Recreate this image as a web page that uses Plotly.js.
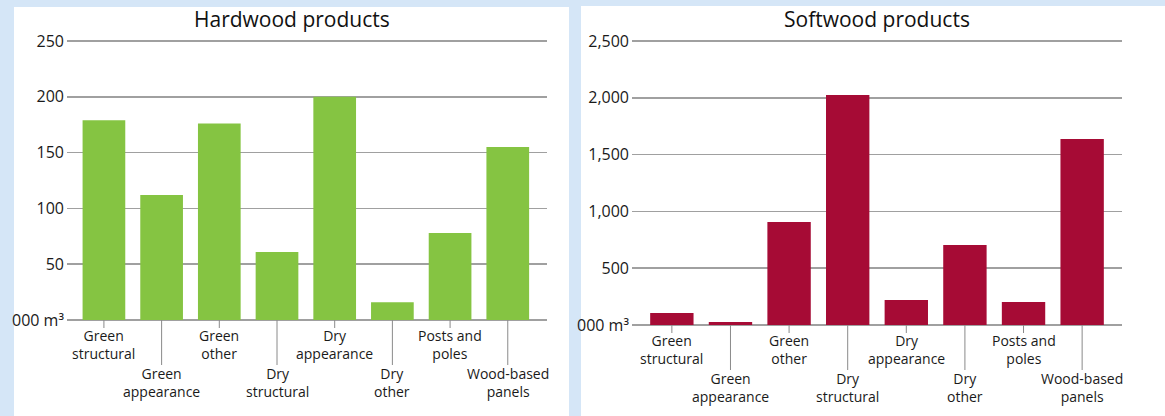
<!DOCTYPE html>
<html>
<head>
<meta charset="utf-8">
<script src="https://cdn.plot.ly/plotly-3.0.1.min.js"></script>
<style>html,body{margin:0;padding:0;background:#d5e6f7;}#chart{width:1165px;height:416px;}</style>
</head>
<body>
<div id="chart"></div>
<script>
const categories = ["Green<br>structural","Green<br>appearance","Green<br>other","Dry<br>structural","Dry<br>appearance","Dry<br>other","Posts and<br>poles","Wood-based<br>panels"];
const hardwoodValues = [179, 112, 176, 61, 200, 16, 78, 155];
const softwoodValues = [106, 26, 907, 2025, 220, 704, 202, 1637];
const hardwoodTickVals = [0, 50, 100, 150, 200, 250];
const hardwoodTickText = ["000 m³", "50", "100", "150", "200", "250"];
const softwoodTickVals = [0, 500, 1000, 1500, 2000, 2500];
const softwoodTickText = ["000 m³", "500", "1,000", "1,500", "2,000", "2,500"];
const titles = ["Hardwood products", "Softwood products"];

const W = 1165, H = 416;
const px = v => v / W;
const py = v => 1 - v / H;
const FONT = "Open Sans, Noto Sans, sans-serif";
const TXT = "#1a1a1a";
const GRID = "#a0a0a0";

// left: 0 at y=320px, 250 at y=41px ; right: 0 at y=325px, 2500 at y=41px
const lk = (320 - 41) / 250, rk = (325 - 41) / 2500;
const leftDom = {x: [px(67), px(547)], y: [py(320 + 2 * lk), py(41 - 2 * lk)]};
const rightDom = {x: [px(632), px(1122)], y: [py(325 + 20 * rk), py(41 - 20 * rk)]};

const traces = [
  {type: "bar", x: categories, y: hardwoodValues, xaxis: "x", yaxis: "y",
   marker: {color: "#85c442"}, hoverinfo: "y", showlegend: false},
  {type: "bar", x: categories, y: softwoodValues, xaxis: "x2", yaxis: "y2",
   marker: {color: "#a60b35"}, hoverinfo: "y", showlegend: false}
];

const shapes = [
  {type: "rect", xref: "paper", yref: "paper", x0: px(14), x1: px(569), y0: 0, y1: py(7),
   fillcolor: "white", line: {width: 0}, layer: "below"},
  {type: "rect", xref: "paper", yref: "paper", x0: px(581), x1: 1, y0: 0, y1: py(6),
   fillcolor: "white", line: {width: 0}, layer: "below"}
];
const annotations = [];

function addLabels(xref, yZero) {
  categories.forEach((c, i) => {
    const lower = i % 2 === 1;
    shapes.push({type: "line", xref: xref, yref: "paper", ysizemode: "pixel", yanchor: yZero,
      x0: c, x1: c, y0: 0, y1: lower ? -45 : -8, line: {color: "#8a8a8a", width: 1}});
    annotations.push({xref: xref, yref: "paper", x: c, y: yZero, yanchor: "middle", xanchor: "center",
      yshift: lower ? -62 : -24.5, text: c, showarrow: false, align: "center", borderpad: 0,
      font: {family: FONT, size: 14, color: TXT}});
  });
}
addLabels("x", py(320));
addLabels("x2", py(325));

annotations.push({xref: "paper", yref: "paper", x: px(292), y: py(19), text: titles[0], showarrow: false,
  xanchor: "center", yanchor: "middle", font: {family: FONT, size: 21, color: "#111"}});
annotations.push({xref: "paper", yref: "paper", x: px(877), y: py(19), text: titles[1], showarrow: false,
  xanchor: "center", yanchor: "middle", font: {family: FONT, size: 21, color: "#111"}});

const yCommon = {showgrid: true, gridcolor: GRID, gridwidth: 1.6, zeroline: false, showline: false,
  ticks: "", ticklabelstandoff: 2, tickfont: {family: FONT, size: 16, color: TXT}, fixedrange: true};
const xCommon = {type: "category", showgrid: false, zeroline: false, showline: false, ticks: "",
  showticklabels: false, fixedrange: true};

const layout = {
  width: W, height: H,
  margin: {l: 0, r: 0, t: 0, b: 0},
  paper_bgcolor: "#d5e6f7",
  plot_bgcolor: "white",
  bargap: 0.26,
  xaxis: Object.assign({}, xCommon, {domain: leftDom.x, range: [-0.64, 7.68], anchor: "y"}),
  yaxis: Object.assign({}, yCommon, {domain: leftDom.y, range: [-2, 252], tickvals: hardwoodTickVals,
    ticktext: hardwoodTickText, anchor: "x"}),
  xaxis2: Object.assign({}, xCommon, {domain: rightDom.x, range: [-0.68, 7.68], anchor: "y2"}),
  yaxis2: Object.assign({}, yCommon, {domain: rightDom.y, range: [-20, 2520], tickvals: softwoodTickVals,
    ticktext: softwoodTickText, anchor: "x2"}),
  shapes: shapes,
  annotations: annotations
};

Plotly.newPlot("chart", traces, layout, {displayModeBar: false, staticPlot: true});
</script>
</body>
</html>
